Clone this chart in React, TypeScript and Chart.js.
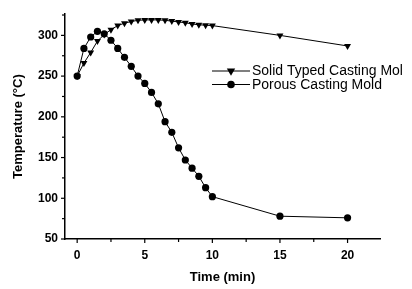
import React, { useEffect, useRef } from "react";
import { Chart, registerables } from "chart.js";

Chart.register(...registerables);

const solidTimes = [0, 0.5, 1, 1.5, 2, 2.5, 3, 3.5, 4, 4.5, 5, 5.5, 6, 6.5, 7, 7.5, 8, 8.5, 9, 9.5, 10, 15, 20];
const solidTemps = [250, 266, 279, 293, 301, 307, 312, 315, 317, 318.5, 319, 319, 319, 318.5, 317.5, 316.5, 315.5, 314, 313, 312.5, 312, 300, 287];

const porousTimes = [0, 0.5, 1, 1.5, 2, 2.5, 3, 3.5, 4, 4.5, 5, 5.5, 6, 6.5, 7, 7.5, 8, 8.5, 9, 9.5, 10, 15, 20];
const porousTemps = [250, 284, 298, 305, 302, 294, 284, 273, 262, 250, 241, 230, 216, 194, 181, 162, 147, 137, 127, 113, 102, 78, 76];

const xTickValues = [0, 5, 10, 15, 20];
const yTickValues = [50, 100, 150, 200, 250, 300];

const solidLabel = "Solid Typed Casting Mol";
const porousLabel = "Porous Casting Mold";
const xTitle = "Time (min)";
const yTitle = "Temperature (°C)";

const FONT = "'Liberation Sans', Arial, Helvetica, sans-serif";

function drawMarker(ctx: CanvasRenderingContext2D, style: string, x: number, y: number, r: number, rot: number) {
  ctx.save();
  ctx.fillStyle = "#000";
  ctx.beginPath();
  if (style === "circle") {
    ctx.arc(x, y, r, 0, Math.PI * 2);
  } else {
    const a = (rot * Math.PI) / 180;
    for (let i = 0; i < 3; i++) {
      const ang = a - Math.PI / 2 + (i * 2 * Math.PI) / 3;
      const px = x + Math.cos(ang) * r * 1.15;
      const py = y + Math.sin(ang) * r * 1.15;
      if (i === 0) ctx.moveTo(px, py);
      else ctx.lineTo(px, py);
    }
    ctx.closePath();
  }
  ctx.fill();
  ctx.restore();
}

const tickPlugin = {
  id: "customTicks",
  afterDraw(chart: any) {
    const ctx = chart.ctx;
    const xs = chart.scales.x;
    const ys = chart.scales.y;
    ctx.save();
    ctx.strokeStyle = "#000";
    ctx.lineWidth = 1.2;
    for (let v = 0; v <= xs.max; v += 2.5) {
      const px = xs.getPixelForValue(v);
      const major = v % 5 === 0;
      ctx.beginPath();
      ctx.moveTo(px, xs.top);
      ctx.lineTo(px, xs.top + (major ? 4 : 3));
      ctx.stroke();
    }
    for (let v = 50; v <= ys.max; v += 25) {
      const py = ys.getPixelForValue(v);
      const major = v % 50 === 0;
      ctx.beginPath();
      ctx.moveTo(ys.right, py);
      ctx.lineTo(ys.right - (major ? 4 : 3), py);
      ctx.stroke();
    }
    ctx.restore();
  },
};

const legendPlugin = {
  id: "customLegend",
  afterDraw(chart: any) {
    const ctx = chart.ctx;
    const items = [
      { label: solidLabel, style: "triangle", rot: 180, r: 4.2, y: 71 },
      { label: porousLabel, style: "circle", rot: 0, r: 3.8, y: 84.5 },
    ];
    ctx.save();
    items.forEach((it) => {
      ctx.strokeStyle = "#000";
      ctx.lineWidth = 1.2;
      ctx.beginPath();
      ctx.moveTo(212, it.y);
      ctx.lineTo(250, it.y);
      ctx.stroke();
      drawMarker(ctx, it.style, 231, it.y, it.r, it.rot);
      ctx.fillStyle = "#000";
      ctx.font = `14px ${FONT}`;
      ctx.textBaseline = "middle";
      ctx.textAlign = "left";
      ctx.fillText(it.label, 252, it.y + 0.5);
    });
    ctx.restore();
  },
};

export default function App() {
  const ref = useRef<HTMLCanvasElement | null>(null);
  useEffect(() => {
    if (!ref.current) return;
    const chart = new Chart(ref.current, {
      type: "line",
      data: {
        datasets: [
          {
            label: solidLabel,
            data: solidTimes.map((t, i) => ({ x: t, y: solidTemps[i] })),
            borderColor: "#000",
            backgroundColor: "#000",
            borderWidth: 1,
            pointStyle: "triangle",
            rotation: 180,
            pointRadius: 4,
            pointBorderWidth: 0,
            tension: 0,
          },
          {
            label: porousLabel,
            data: porousTimes.map((t, i) => ({ x: t, y: porousTemps[i] })),
            borderColor: "#000",
            backgroundColor: "#000",
            borderWidth: 1,
            pointStyle: "circle",
            pointRadius: 3.6,
            pointBorderWidth: 0,
            tension: 0,
          },
        ],
      },
      options: {
        responsive: false,
        animation: false,
        layout: { padding: { top: 7, right: 32, left: 0, bottom: 0 } },
        plugins: { legend: { display: false }, tooltip: { enabled: false } },
        scales: {
          x: {
            type: "linear",
            min: -0.9,
            max: 22.4,
            afterBuildTicks: (s: any) => {
              s.ticks = xTickValues.map((v) => ({ value: v }));
            },
            afterFit: (s: any) => {
              s.height = 50;
            },
            grid: { display: false, drawTicks: false },
            border: { display: true, color: "#000", width: 1.5 },
            ticks: {
              color: "#000",
              padding: 9,
              maxRotation: 0,
              font: { family: FONT, size: 12, weight: "bold" },
            },
            title: {
              display: true,
              text: xTitle,
              color: "#000",
              font: { family: FONT, size: 13, weight: "bold" },
              padding: { top: 0, bottom: 4 },
            },
          },
          y: {
            type: "linear",
            min: 50,
            max: 326,
            afterBuildTicks: (s: any) => {
              s.ticks = yTickValues.map((v) => ({ value: v }));
            },
            afterFit: (s: any) => {
              s.width = 65;
            },
            grid: { display: false, drawTicks: false },
            border: { display: true, color: "#000", width: 1.5 },
            ticks: {
              color: "#000",
              padding: 7,
              font: { family: FONT, size: 12, weight: "bold" },
            },
            title: {
              display: true,
              text: yTitle,
              color: "#000",
              font: { family: FONT, size: 13, weight: "bold" },
              padding: { top: 11, bottom: 0 },
            },
          },
        },
      } as any,
      plugins: [tickPlugin, legendPlugin],
    });
    return () => chart.destroy();
  }, []);
  return (
    <div style={{ position: "absolute", left: 0, top: 0, width: 412, height: 289, background: "#fff" }}>
      <canvas ref={ref} width={412} height={289} />
    </div>
  );
}
